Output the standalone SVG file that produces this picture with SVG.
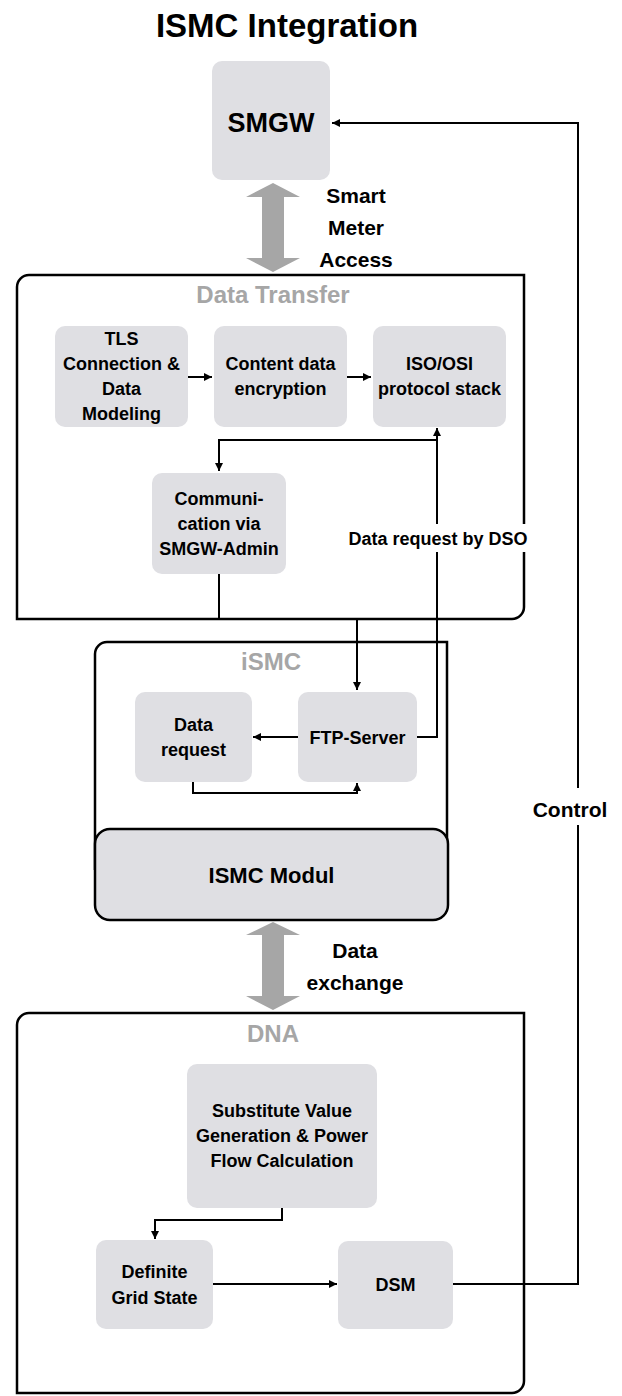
<svg xmlns="http://www.w3.org/2000/svg" width="622" height="1396" viewBox="0 0 622 1396">
<defs>
<style>
text{font-family:"Liberation Sans",Arial,sans-serif;font-weight:bold;text-anchor:middle;fill:#000}
.node{fill:#dfdfe3}
.t18{font-size:18px}
.lbl{font-size:21px}
.grp{font-size:24px;fill:#a6a6a6}
.cont{fill:none;stroke:#000;stroke-width:2.5}
.con{fill:none;stroke:#000;stroke-width:2}
.big{fill:#a6a6a6}
</style>
<marker id="ah" viewBox="0 0 8 8" refX="8" refY="4" markerWidth="8" markerHeight="8" markerUnits="userSpaceOnUse" orient="auto">
<path d="M0,0 L8,4 L0,8 z" fill="#000"/>
</marker>
</defs>
<rect width="622" height="1396" fill="#fff"/>
<text x="287" y="37" style="font-size:33px">ISMC Integration</text>

<g id="smgw">
<rect class="node" x="212" y="61" width="118" height="119" rx="10"/>
<text x="271" y="132" style="font-size:27px">SMGW</text>
</g>

<g id="arrow-smart-meter-access">
<polygon class="big" points="273,183 300,197 284,197 284,258 300,258 273,272 246,258 262,258 262,197 246,197"/>
<text class="lbl" x="356" y="203">Smart</text>
<text class="lbl" x="356" y="235">Meter</text>
<text class="lbl" x="356" y="267">Access</text>
</g>

<g id="data-transfer">
<path class="cont" d="M17,619 V287 A12,12 0 0 1 29,275 H524 V607 A12,12 0 0 1 512,619 Z"/>
<text class="grp" x="273" y="303">Data Transfer</text>
</g>
<g id="tls">
<rect class="node" x="55" y="326" width="133" height="101" rx="10"/>
<text class="t18" x="121.5" y="345">TLS</text>
<text class="t18" x="121.5" y="370">Connection &amp;</text>
<text class="t18" x="121.5" y="395">Data</text>
<text class="t18" x="121.5" y="420">Modeling</text>
</g>
<g id="content-encryption">
<rect class="node" x="214" y="326" width="133" height="101" rx="10"/>
<text class="t18" x="280.5" y="370">Content data</text>
<text class="t18" x="280.5" y="395">encryption</text>
</g>
<g id="iso-osi">
<rect class="node" x="373" y="326" width="133" height="101" rx="10"/>
<text class="t18" x="439.5" y="370">ISO/OSI</text>
<text class="t18" x="439.5" y="395">protocol stack</text>
</g>
<g id="communication">
<rect class="node" x="152" y="473" width="134" height="101" rx="10"/>
<text class="t18" x="219" y="505">Communi-</text>
<text class="t18" x="219" y="530">cation via</text>
<text class="t18" x="219" y="555">SMGW-Admin</text>
</g>

<g id="ismc">
<path class="cont" d="M95,870 V654 A12,12 0 0 1 107,642 H447 V870"/>
<text class="grp" x="271" y="670">iSMC</text>
</g>
<g id="data-request">
<rect class="node" x="135" y="692" width="117" height="90" rx="10"/>
<text class="t18" x="193.5" y="731">Data</text>
<text class="t18" x="193.5" y="756">request</text>
</g>
<g id="ftp-server">
<rect class="node" x="298" y="692" width="119" height="90" rx="10"/>
<text class="t18" x="357.5" y="744">FTP-Server</text>
</g>
<g id="ismc-modul">
<rect x="95" y="829" width="353" height="91" rx="15" fill="#dfdfe3" stroke="#000" stroke-width="2.5"/>
<text x="271.5" y="883" style="font-size:22px">ISMC Modul</text>
</g>

<g id="arrow-data-exchange">
<polygon class="big" points="273,922 300,935 284,935 284,996 300,996 273,1010 246,996 262,996 262,935 246,935"/>
<text class="lbl" x="355" y="958">Data</text>
<text class="lbl" x="355" y="990">exchange</text>
</g>

<g id="dna">
<path class="cont" d="M17,1393 V1025 A12,12 0 0 1 29,1013 H524 V1381 A12,12 0 0 1 512,1393 Z"/>
<text class="grp" x="273" y="1042">DNA</text>
</g>
<g id="substitute">
<rect class="node" x="187" y="1064" width="190" height="144" rx="10"/>
<text class="t18" x="282" y="1117">Substitute Value</text>
<text class="t18" x="282" y="1142">Generation &amp; Power</text>
<text class="t18" x="282" y="1167">Flow Calculation</text>
</g>
<g id="definite">
<rect class="node" x="96" y="1240" width="117" height="89" rx="10"/>
<text class="t18" x="154.5" y="1278">Definite</text>
<text class="t18" x="154.5" y="1304">Grid State</text>
</g>
<g id="dsm">
<rect class="node" x="338" y="1241" width="115" height="88" rx="10"/>
<text class="t18" x="395.5" y="1291">DSM</text>
</g>

<g id="connectors">
<path class="con" d="M188,377 H212" marker-end="url(#ah)"/>
<path class="con" d="M347,377 H371" marker-end="url(#ah)"/>
<path class="con" d="M437,440 H219 V471" marker-end="url(#ah)"/>
<path class="con" d="M417,737 H437 V428" marker-end="url(#ah)"/>
<path class="con" d="M219,574 V619 H357 V690" marker-end="url(#ah)"/>
<path class="con" d="M298,737 H253" marker-end="url(#ah)"/>
<path class="con" d="M193,782 V793 H357 V783" marker-end="url(#ah)"/>
<path class="con" d="M282,1208 V1220 H155 V1239" marker-end="url(#ah)"/>
<path class="con" d="M213,1284 H337" marker-end="url(#ah)"/>
<path class="con" d="M453,1284 H578 V123 H332" marker-end="url(#ah)"/>
<rect x="345" y="524" width="187" height="28" fill="#fff"/>
<text class="t18" x="438" y="545">Data request by DSO</text>
<rect x="528" y="788" width="86" height="37" fill="#fff"/>
<text class="lbl" x="570" y="817">Control</text>
</g>
</svg>
